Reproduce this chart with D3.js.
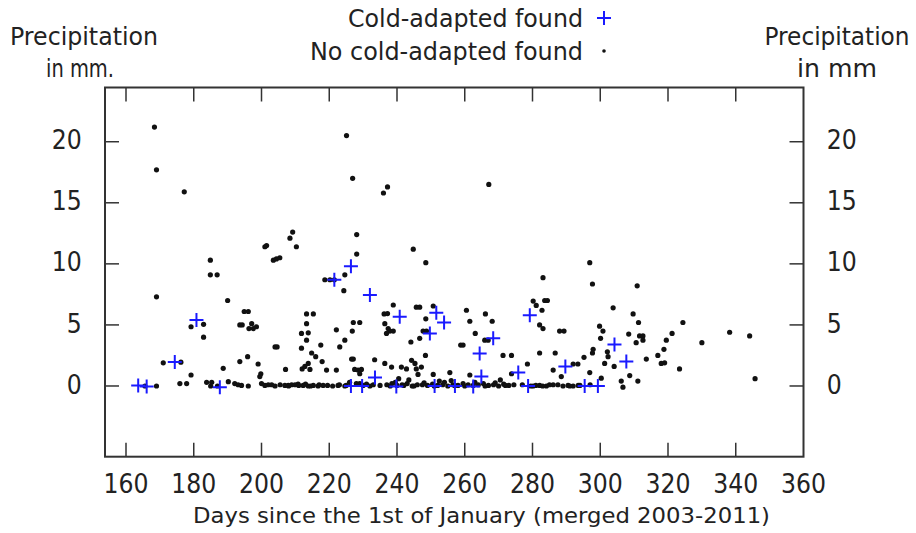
<!DOCTYPE html>
<html><head><meta charset="utf-8">
<script src="https://cdn.jsdelivr.net/npm/d3@7"></script>
<style>
html,body{margin:0;padding:0;background:#fff;}
svg text{font-family:"DejaVu Sans",sans-serif;fill:#222;}
</style></head>
<body><svg id="chart" width="916" height="533"></svg>
<script>
// ---- data ----
const xTicks = [160,180,200,220,240,260,280,300,320,340,360];
const yTicks = [0,5,10,15,20];
const legendLabels = ["Cold-adapted found","No cold-adapted found"];
const xTitle = "Days since the 1st of January (merged 2003-2011)";
const yTitleLeft = ["Precipitation","in mm."];
const yTitleRight = ["Precipitation","in mm"];

const coldDay =    [163.6,166.1,174.4,180.8,187.7,221.5,226.4,232.0,226.4,229.7,233.5,239.8,240.8,249.7,251.1,251.6,253.9,257.1,262.5,264.4,264.9,268.4,275.8,278.7,279.2,289.7,295.4,299.3,304.2,307.7];
const coldPrecip = [0.05,-0.05,1.96,5.4,-0.1,8.7,9.8,7.45,0,0,0.7,-0.05,5.67,4.3,0,6.0,5.2,0,-0.05,2.65,0.77,3.9,1.1,0,5.8,1.6,0,0,3.4,2.0];

const noneDay = [
168.4,169.0,177.2,184.9,184.9,186.9,169.0,190.0,179.2,182.9,182.9,193.6,194.3,194.9,171.0,176.2,179.2,175.9,177.9,188.7,193.6,165.6,169.0,183.8,185.3,185.0,187.0,190.2,192.1,193.1,194.1,
225.1,226.9,236.0,237.2,209.2,208.4,210.3,201.0,201.5,203.5,204.4,205.4,228.1,228.1,224.6,218.7,220.2,221.5,224.3,196.1,236.2,213.3,215.3,197.1,196.3,197.6,198.5,213.3,227.1,229.0,226.8,222.1,211.8,213.8,213.3,204.0,204.6,224.6,223.1,217.5,211.8,214.8,216.0,217.9,213.8,195.9,199.0,207.1,212.0,212.8,214.3,222.1,226.6,227.1,219.2,199.8,199.5,233.4,227.5,228.5,229.5,229.0,
196.1,200.0,202.0,203.0,206.9,207.9,208.9,209.9,210.8,212.3,213.8,215.3,216.7,218.2,222.6,224.6,228.0,229.0,231.0,
201.0,204.0,205.5,208.0,211.0,213.0,214.5,217.0,219.5,221.0,223.0,225.0,226.0,230.0,232.0,233.0,235.0,
244.8,248.5,267.1,238.9,237.2,245.7,246.7,250.7,248.5,236.4,237.4,237.9,236.9,238.9,247.7,248.7,246.7,244.1,260.5,261.5,266.1,268.1,263.1,258.8,259.5,265.9,266.9,248.4,271.3,273.8,236.4,238.4,241.3,242.8,244.3,245.3,245.7,246.2,247.2,250.7,255.6,261.5,273.8,
237.0,238.5,240.0,241.5,243.0,244.5,246.0,247.5,249.0,250.5,252.0,253.5,255.0,256.5,258.0,259.5,261.0,262.5,264.0,265.5,267.0,268.5,270.0,271.5,273.0,274.5,
238.0,239.5,242.0,245.0,248.0,251.0,254.0,257.0,260.0,263.0,266.0,269.0,272.0,240.5,243.5,252.5,256.0,270.5,
296.9,297.7,283.1,310.9,280.2,281.1,283.6,284.4,282.8,282.1,283.1,288.0,289.3,303.8,309.7,311.3,299.8,300.8,308.4,311.6,312.6,310.6,312.6,300.1,282.1,286.7,278.5,292.0,293.4,295.2,297.9,297.7,302.1,302.3,301.3,304.1,308.7,313.6,317.0,318.0,318.8,296.9,288.5,286.1,300.3,306.2,306.7,311.1,
280.2,282.1,284.1,286.1,287.5,289.0,290.5,292.0,293.5,277.0,279.5,281.0,283.0,285.0,291.0,294.0,297.0,
324.4,321.2,319.5,319.0,323.4,330.0,338.2,344.1,345.7];
const nonePrecip = [
21.2,17.7,15.9,10.3,9.1,9.1,7.3,7.0,4.85,5.05,4.0,5.0,5.0,6.1,1.9,1.95,0.9,0.2,0.2,1.45,2.0,0.0,0.0,0.3,0.3,0.0,0.0,0.35,0.2,0.1,0.05,
20.5,17.0,15.8,16.3,12.6,12.1,11.4,11.4,11.5,10.3,10.4,10.5,12.4,10.8,9.1,8.7,8.7,8.7,7.8,6.1,5.9,5.9,5.9,5.1,4.7,4.7,4.85,5.1,5.2,5.2,4.5,4.6,4.3,4.35,3.75,3.2,3.2,3.75,3.2,3.35,3.1,2.7,2.4,2.0,1.85,2.4,1.8,1.36,1.4,1.6,1.36,1.3,2.2,2.2,1.3,1.0,0.77,2.15,1.36,1.3,1.36,1.0,
0.0,0.2,0.1,0.1,0.05,0.05,0.1,0.1,0.15,0.05,0.0,0.05,0.0,0.05,0.05,0.0,0.2,0.2,0.15,
0.05,0.0,0.1,0.0,0.05,0.15,0.0,0.1,0.05,0.0,0.1,0.05,0.3,0.05,0.0,0.1,0.05,
11.2,10.1,16.5,6.63,5.93,6.45,6.45,6.55,5.5,5.1,4.7,4.5,4.3,4.5,4.5,4.5,3.9,3.6,6.2,5.3,5.9,5.3,4.3,3.35,3.35,3.75,3.75,2.5,2.5,2.5,1.85,1.55,1.55,1.4,2.1,1.85,1.4,0.95,1.55,0.95,1.1,0.9,1.0,
0.1,0.2,0.05,0.1,0.2,0.0,0.1,0.1,0.05,0.15,0.05,0.1,0.0,0.1,0.05,0.2,0.1,0.05,0.1,0.2,0.05,0.1,0.0,0.15,0.05,0.1,
0.0,0.3,0.05,0.0,0.25,0.0,0.3,0.05,0.0,0.3,0.0,0.25,0.05,0.6,0.5,0.4,0.45,0.5,
10.1,8.35,8.87,8.2,6.95,6.6,7.0,7.0,6.2,5.0,4.7,4.5,4.5,6.4,5.9,5.2,4.9,4.5,4.25,4.1,4.1,3.55,3.75,3.9,2.7,2.7,1.8,1.8,1.8,2.35,3.0,2.7,2.8,2.4,1.85,1.6,0.85,2.2,2.5,1.85,3.0,1.1,0.77,1.3,0.64,0.4,-0.1,0.4,
0.0,0.05,0.0,0.1,0.1,0.0,0.05,0.0,0.05,0.1,0.0,0.05,0.0,0.1,0.0,0.05,0.1,
5.2,4.3,3.75,1.9,1.4,3.55,4.4,4.1,0.6];

// ---- layout ----
const svg = d3.select("#chart");
const L = 105, R = 803.5, T = 87.5, B = 456.7;
const x = d3.scaleLinear().domain([153.8, 360]).range([L, R]);
const y = d3.scaleLinear().domain([-5.79, 24.44]).range([B, T]);
const tickLen = 14;

// points: black dots
const none = noneDay.map((d,i)=>({d, p:nonePrecip[i]}));
svg.append("g").selectAll("circle").data(none).join("circle")
  .attr("cx", d=>x(d.d)).attr("cy", d=>y(d.p)).attr("r", 2.6).attr("fill", "#111");

// blue plus
const cold = coldDay.map((d,i)=>({d, p:coldPrecip[i]}));
const ps = 7;
svg.append("g").selectAll("path").data(cold).join("path")
  .attr("d", d=>`M${x(d.d)-ps},${y(d.p)}H${x(d.d)+ps}M${x(d.d)},${y(d.p)-ps}V${y(d.p)+ps}`)
  .attr("stroke", "#1a1aff").attr("stroke-width", 2).attr("fill","none");

// ticks (mirrored, inward)
const tg = svg.append("g").attr("stroke", "#333").attr("stroke-width", 1.5);
xTicks.filter(t=>t<360).forEach(t=>{
  tg.append("line").attr("x1",x(t)).attr("x2",x(t)).attr("y1",B).attr("y2",B-tickLen);
  tg.append("line").attr("x1",x(t)).attr("x2",x(t)).attr("y1",T).attr("y2",T+tickLen);
});
yTicks.forEach(t=>{
  tg.append("line").attr("x1",L).attr("x2",L+tickLen).attr("y1",y(t)).attr("y2",y(t));
  tg.append("line").attr("x1",R).attr("x2",R-tickLen).attr("y1",y(t)).attr("y2",y(t));
});
// frame
svg.append("rect").attr("x",L).attr("y",T).attr("width",R-L).attr("height",B-T)
  .attr("fill","none").attr("stroke","#333").attr("stroke-width",2);

// tick labels
const fs = 26;
svg.append("g").selectAll("text").data(xTicks).join("text")
  .attr("x", d=>x(d)).attr("y", 492.7).attr("text-anchor","middle")
  .attr("font-size", fs).attr("textLength", 45).attr("lengthAdjust","spacingAndGlyphs")
  .text(d=>d);
svg.append("g").selectAll("text").data(yTicks).join("text")
  .attr("x", 81.7).attr("y", d=>y(d)+7.6).attr("text-anchor","end")
  .attr("font-size", fs).attr("textLength", d=>String(d).length*15).attr("lengthAdjust","spacingAndGlyphs")
  .text(d=>d);
svg.append("g").selectAll("text").data(yTicks).join("text")
  .attr("x", 826.7).attr("y", d=>y(d)+7.6).attr("text-anchor","start")
  .attr("font-size", fs).attr("textLength", d=>String(d).length*15).attr("lengthAdjust","spacingAndGlyphs")
  .text(d=>d);

// axis title
svg.append("text").attr("x", 193).attr("y", 523).attr("font-size", 20.5)
  .attr("textLength", 577).attr("lengthAdjust","spacingAndGlyphs").text(xTitle);

// y titles
const ttl = (txt, cx, yy, w) => svg.append("text").attr("x", cx - w/2).attr("y", yy)
  .attr("font-size", 24).attr("textLength", w).attr("lengthAdjust","spacingAndGlyphs").text(txt);
ttl(yTitleLeft[0], 84, 45, 148);
ttl(yTitleLeft[1], 80, 77, 68);
ttl(yTitleRight[0], 837, 45, 145);
ttl(yTitleRight[1], 837, 77, 80);

// legend
svg.append("text").attr("x", 583).attr("y", 27).attr("text-anchor","end").attr("font-size",24)
  .attr("textLength", 235).attr("lengthAdjust","spacingAndGlyphs").text(legendLabels[0]);
svg.append("text").attr("x", 583).attr("y", 60).attr("text-anchor","end").attr("font-size",24)
  .attr("textLength", 273).attr("lengthAdjust","spacingAndGlyphs").text(legendLabels[1]);
svg.append("path").attr("d", `M${604-ps},18H${604+ps}M604,${18-ps}V${18+ps}`)
  .attr("stroke","#1a1aff").attr("stroke-width",2);
svg.append("circle").attr("cx",604).attr("cy",51).attr("r",1.8).attr("fill","#111");
</script></body></html>
